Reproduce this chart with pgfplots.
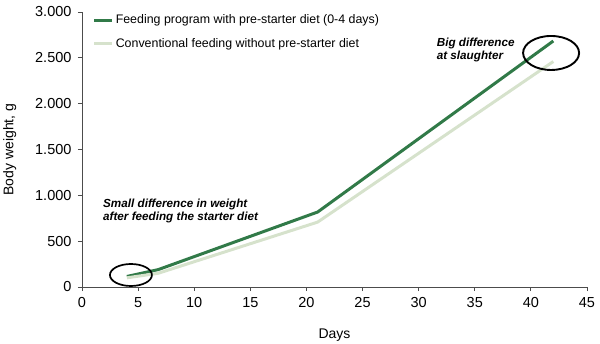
\documentclass[border=0pt]{standalone}
\usepackage{pgfplots}
\pgfplotsset{compat=1.18}
\usepackage{fontspec}
\setmainfont{Liberation Sans}
\definecolor{darkg}{RGB}{49,122,72}
\definecolor{lightg}{RGB}{214,226,204}
\begin{document}
\begin{tikzpicture}[x=1pt,y=1pt]
\useasboundingbox (-82,-56) rectangle (518,287);
\begin{axis}[
  at={(0,0)}, anchor=south west,
  scale only axis,
  width=505pt, height=275pt,
  xmin=0, xmax=45, ymin=0, ymax=3000,
  xtick={0,5,...,45}, ytick={0,500,...,3000},
  yticklabels={0,500,1.000,1.500,2.000,2.500,3.000},
  axis x line*=bottom, axis y line*=left,
  axis line style={black!70, line width=0.8pt},
  tick style={black!70, line width=0.8pt},
  tick align=outside, major tick length=4pt,
  /pgf/number format/assume math mode=true,
  yticklabel style={font=\fontsize{14.5}{16}\selectfont, xshift=-3pt},
  xticklabel style={font=\fontsize{14.5}{16}\selectfont, yshift=-3pt},
  xlabel={Days}, ylabel={Body weight, g},
  xlabel style={font=\fontsize{14}{16}\selectfont, at={(axis description cs:0.5,-0.175)}, anchor=center},
  ylabel style={font=\fontsize{14}{16}\selectfont, at={(axis description cs:-0.143,0.5)}, anchor=center},
  legend style={at={(0.015,1.005)}, anchor=north west, draw=none, fill=none,
    font=\fontsize{12.4}{14}\selectfont, row sep=9pt},
  legend image code/.code={\draw[#1, line width=3pt] (0pt,0pt) -- (12pt,0pt); \path (0pt,0pt) -- (18pt,0pt);},
  legend cell align=left,
  clip=false,
]
\addplot[darkg, line width=3pt] coordinates {(4,115) (6.8,190) (21,818) (42,2684)};
\addlegendentry{Feeding program with pre-starter diet (0-4 days)}
\addplot[lightg, line width=3pt] coordinates {(4,100) (6.8,150) (21,708) (42,2460)};
\addlegendentry{Conventional feeding without pre-starter diet}
\draw[black, line width=1.7pt] (axis cs:4.36,131) ellipse [x radius=21pt, y radius=11pt];
\draw[black, line width=1.9pt] (axis cs:41.8,2553) ellipse [x radius=28pt, y radius=17pt];
\node[anchor=west, align=left, inner sep=0pt, font=\fontsize{11.7}{13}\selectfont\bfseries\itshape] at (axis cs:1.87,824) {Small difference in weight\\after feeding the starter diet};
\node[anchor=west, align=left, inner sep=0pt, font=\fontsize{11.7}{13}\selectfont\bfseries\itshape] at (axis cs:31.6,2591) {Big difference\\at slaughter};
\end{axis}
\end{tikzpicture}
\end{document}
